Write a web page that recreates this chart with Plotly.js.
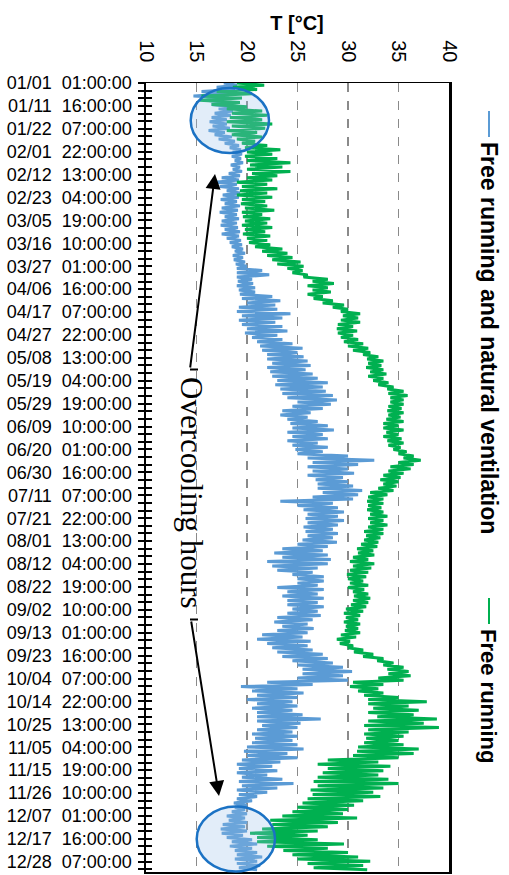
<!DOCTYPE html>
<html><head><meta charset="utf-8">
<script src="https://cdn.plot.ly/plotly-3.0.1.min.js"></script>
<style>html,body{margin:0;padding:0;background:#fff}#chart{width:509px;height:875px}</style>
</head><body><div id="chart"></div>
<script>
// ---- data (one value pair per 2-day window: low and high of the band) ----
const seriesNames = ['Free running and natural ventilation', 'Free running'];
const stepHours = 48;
const timeLabels = ['01/01  01:00:00','01/11  16:00:00','01/22  07:00:00','02/01  22:00:00','02/12  13:00:00',
  '02/23  04:00:00','03/05  19:00:00','03/16  10:00:00','03/27  01:00:00','04/06  16:00:00','04/17  07:00:00',
  '04/27  22:00:00','05/08  13:00:00','05/19  04:00:00','05/29  19:00:00','06/09  10:00:00','06/20  01:00:00',
  '06/30  16:00:00','07/11  07:00:00','07/21  22:00:00','08/01  13:00:00','08/12  04:00:00','08/22  19:00:00',
  '09/02  10:00:00','09/13  01:00:00','09/23  16:00:00','10/04  07:00:00','10/14  22:00:00','10/25  13:00:00',
  '11/05  04:00:00','11/15  19:00:00','11/26  10:00:00','12/07  01:00:00','12/17  16:00:00','12/28  07:00:00'];
const xTickVals = [10, 15, 20, 25, 30, 35, 40];

const ventLo = [
 17.7,17.0,15.5,14.7,16.0,16.5,17.2,16.8,16.5,16.3,
 16.6,16.2,16.8,17.2,17.8,18.3,18.6,18.5,18.8,18.4,
 18.6,18.2,17.5,16.8,17.3,18.0,17.6,17.4,17.8,17.5,
 17.3,17.8,17.5,17.4,17.8,17.5,18.0,18.3,18.5,18.8,
 18.6,18.7,18.9,19.0,19.0,19.0,19.1,19.0,19.2,19.3,
 19.5,20.0,19.2,19.0,19.5,19.2,19.5,20.0,19.8,20.5,
 21.0,21.3,21.5,22.0,22.0,22.5,22.0,22.3,22.5,23.0,
 22.8,23.3,23.5,24.0,25.0,24.5,23.5,23.3,24.0,24.3,
 24.5,24.0,24.5,24.0,24.5,24.8,25.0,26.0,26.5,26.0,
 26.5,26.0,26.8,27.0,27.0,27.5,26.5,23.3,25.0,25.6,
 26.0,25.8,26.0,25.6,25.8,26.0,25.5,25.0,23.5,22.7,
 23.5,22.0,22.5,23.0,24.5,25.0,25.0,23.0,24.0,23.5,
 24.0,24.0,24.5,24.0,23.0,22.7,23.5,23.0,21.5,21.0,
 22.0,22.5,23.0,23.5,24.5,25.0,25.5,25.5,25.0,22.0,
 19.4,20.5,21.0,20.0,21.0,20.5,21.0,21.0,21.0,21.5,
 21.0,20.5,20.8,20.5,20.0,19.7,20.0,19.5,19.0,19.2,
 19.0,19.5,19.2,19.5,19.0,19.2,19.0,18.7,18.8,18.5,
 18.0,18.2,17.6,17.4,17.5,18.0,18.5,18.3,18.8,19.0,
 18.8,19.0,19.2];
const ventHi = [
 19.0,18.8,18.5,18.2,18.0,18.5,18.6,18.4,18.0,18.0,
 18.3,17.8,18.5,18.8,19.2,19.4,19.5,19.4,19.6,19.3,
 19.5,19.3,19.2,19.0,19.2,19.3,19.2,19.0,19.3,19.1,
 19.0,19.2,19.0,19.1,19.3,19.2,19.4,19.5,19.6,19.8,
 19.6,19.8,20.0,21.5,22.2,20.5,20.6,20.8,20.8,22.5,
 23.3,22.8,23.0,24.3,23.5,22.8,23.5,24.0,23.0,23.5,
 24.5,25.5,25.0,25.6,26.0,26.3,25.8,26.5,27.0,28.0,
 27.5,27.8,28.5,28.9,28.3,27.5,26.3,26.0,27.0,28.0,
 28.6,27.5,28.0,27.0,28.0,27.5,30.0,32.6,31.0,30.0,
 30.6,29.5,30.0,30.5,31.4,31.0,30.5,28.5,29.0,29.6,
 29.0,29.6,29.0,28.5,29.0,28.5,28.9,28.0,27.5,28.0,
 28.3,28.0,27.0,26.5,27.6,27.6,27.0,27.6,27.0,27.6,
 27.0,27.6,27.0,27.3,26.5,26.0,26.6,26.0,25.5,26.3,
 26.0,26.5,27.5,28.0,28.5,29.5,30.4,29.5,30.0,26.5,
 25.0,25.6,25.0,24.5,25.0,24.5,25.5,27.3,25.3,25.0,
 24.5,25.0,24.5,25.0,25.6,24.0,25.0,23.3,22.5,23.0,
 22.0,23.5,24.6,23.0,22.0,21.0,20.5,20.0,19.8,20.0,
 19.8,20.0,19.8,20.0,19.6,20.5,21.0,20.5,21.0,21.5,
 21.0,21.3,21.0];
const freeLo = [
 19.0,18.6,17.0,15.5,15.3,16.5,18.0,18.5,18.3,18.0,
 18.5,18.0,18.5,19.0,19.5,19.8,20.0,19.8,20.0,20.3,
 20.0,20.5,20.0,19.0,19.5,19.3,19.0,19.5,19.4,19.8,
 19.5,19.6,19.8,19.5,19.8,19.6,20.0,20.2,20.8,21.5,
 22.0,22.5,23.0,24.0,24.5,25.6,26.5,26.0,26.5,26.0,
 26.6,27.5,28.5,29.3,29.5,29.3,29.0,28.9,29.0,29.3,
 29.6,30.0,30.5,31.5,31.9,32.0,31.8,32.2,32.0,32.5,
 33.0,33.9,34.0,34.2,34.2,34.0,33.9,34.0,33.8,33.5,
 33.5,33.8,33.5,33.9,34.0,34.5,35.0,35.5,35.0,34.2,
 34.0,33.5,33.2,33.5,33.0,32.2,32.0,31.9,32.0,31.9,
 32.2,32.0,32.2,32.0,31.6,31.8,31.6,31.3,30.9,31.0,
 30.5,30.2,30.5,30.2,29.9,30.0,30.2,30.0,30.5,30.6,
 30.5,30.3,29.8,29.6,29.8,29.6,29.8,29.7,29.3,28.9,
 29.2,30.0,30.6,31.5,32.9,33.5,33.9,34.0,33.0,30.5,
 30.2,31.0,31.6,32.0,32.0,32.5,32.0,32.9,32.0,31.6,
 32.0,31.6,31.8,31.6,31.0,30.9,30.5,28.0,27.0,28.0,
 27.5,27.0,26.6,27.0,26.3,26.5,26.0,25.5,25.0,24.5,
 23.5,22.3,22.5,21.5,20.3,21.0,21.0,22.0,23.6,24.5,
 25.0,26.0,26.6];
const freeHi = [
 21.7,21.0,20.5,19.5,19.3,20.0,21.5,22.0,21.5,22.5,
 21.8,21.0,21.5,20.8,22.0,23.3,22.5,23.0,24.3,23.5,
 24.3,23.0,22.5,22.0,23.0,22.0,22.5,21.8,22.0,22.7,
 21.5,22.3,22.0,22.5,21.8,22.3,22.0,22.3,23.5,24.0,
 24.5,25.3,25.6,25.5,26.0,28.0,28.6,28.0,28.3,27.5,
 28.5,29.6,30.0,31.2,31.0,31.2,30.5,30.9,30.5,31.0,
 31.5,32.0,32.2,33.0,33.5,33.3,33.5,33.8,33.5,34.0,
 34.5,35.5,35.9,35.5,35.5,35.3,35.5,35.2,35.5,35.0,
 35.5,35.0,35.3,35.5,35.2,35.8,36.5,37.2,36.5,36.2,
 35.5,35.2,35.0,34.8,34.5,33.9,33.5,33.5,33.3,33.5,
 33.9,33.5,33.9,33.5,33.5,33.2,33.0,32.9,32.5,32.6,
 32.0,32.6,32.3,32.0,31.8,31.5,32.0,31.6,32.0,32.2,
 32.0,31.8,31.5,31.2,31.0,31.2,31.0,31.2,30.8,30.2,
 30.5,31.5,32.5,33.5,34.5,35.5,36.0,36.2,35.5,33.5,
 33.0,33.5,35.0,37.8,36.0,37.0,36.5,38.8,37.5,39.0,
 36.0,35.5,35.0,35.5,37.0,36.5,35.0,33.0,34.2,33.5,
 33.0,34.0,35.0,33.5,32.5,33.2,31.5,30.6,30.0,29.5,
 30.9,29.0,28.0,27.0,26.0,27.0,29.6,28.0,30.0,31.0,
 32.2,31.5,31.9];

// ---- build traces: alternate low/high of each window (half a window apart) ----
function band(lo, hi) {
  const x = [], y = [];
  for (let i = 0; i < lo.length; i++) {
    x.push(lo[i]); y.push(i * stepHours);
    x.push(hi[i]); y.push(i * stepHours + stepHours / 2);
  }
  return {x, y};
}
const bv = band(ventLo, ventHi), bf = band(freeLo, freeHi);
const yMax = ventLo.length * stepHours;

const traces = [
  {type: 'scatter', mode: 'lines', name: seriesNames[0], x: bv.x, y: bv.y, yaxis: 'y',
   line: {color: '#5b9bd5', width: 3}},
  {type: 'scatter', mode: 'lines', name: seriesNames[1], x: bf.x, y: bf.y, yaxis: 'y2',
   line: {color: '#00b050', width: 3}}
];

// ---- y ticks: every 85 h, label every 255 h ----
const tickStep = 85, labelEvery = 3;
const tickVals = [], tickText = [];
for (let k = 0; k * tickStep < yMax; k++) {
  tickVals.push(k * tickStep);
  tickText.push(k % labelEvery === 0 && timeLabels[k / labelEvery] ? timeLabels[k / labelEvery].replace('  ', '\u00a0 ') : '');
}

// ---- layout helpers (pixel -> paper) ----
const M = {l: 146, r: 60, t: 83, b: 3}, W = 509, H = 875;
const pw = W - M.l - M.r, ph = H - M.t - M.b;
const PX = px => (px - M.l) / pw;
const PY = py => (H - M.b - py) / ph;

const font = 'Liberation Sans, Arial, sans-serif';
const shapes = [
  {type: 'circle', xref: 'paper', yref: 'paper', x0: PX(190.7), x1: PX(269), y0: PY(88), y1: PY(153),
   line: {color: '#1b72c4', width: 2.5}, fillcolor: 'rgba(150,190,232,0.28)', layer: 'above'},
  {type: 'circle', xref: 'paper', yref: 'paper', x0: PX(196.7), x1: PX(275), y0: PY(806.5), y1: PY(871.5),
   line: {color: '#1b72c4', width: 2.5}, fillcolor: 'rgba(150,190,232,0.28)', layer: 'above'},
  {type: 'line', xref: 'paper', yref: 'paper', x0: PX(190), x1: PX(198), y0: PY(369.5), y1: PY(369.5),
   line: {color: 'black', width: 2}},
  {type: 'line', xref: 'paper', yref: 'paper', x0: PX(190), x1: PX(198), y0: PY(619.5), y1: PY(619.5),
   line: {color: 'black', width: 2}},
  // legend keys
  {type: 'line', xref: 'paper', yref: 'paper', x0: PX(489), x1: PX(489), y0: PY(111), y1: PY(137),
   line: {color: '#5b9bd5', width: 2}},
  {type: 'line', xref: 'paper', yref: 'paper', x0: PX(489), x1: PX(489), y0: PY(598), y1: PY(624),
   line: {color: '#00b050', width: 2}}
];

const annotations = [
  {xref: 'paper', yref: 'paper', x: PX(192), y: PY(493), text: 'Overcooling hours', textangle: 90,
   showarrow: false, xanchor: 'center', yanchor: 'middle',
   font: {family: 'Liberation Serif, Times New Roman, serif', size: 31, color: 'black'}},
  {xref: 'paper', yref: 'paper', x: PX(215), y: PY(174), text: '', showarrow: true,
   ax: 190 - 215, ay: 369 - 174, arrowhead: 2, arrowsize: 1.5, arrowwidth: 2, arrowcolor: 'black', standoff: 0},
  {xref: 'paper', yref: 'paper', x: PX(219), y: PY(796), text: '', showarrow: true,
   ax: 191 - 219, ay: 620 - 796, arrowhead: 2, arrowsize: 1.5, arrowwidth: 2, arrowcolor: 'black', standoff: 0},
  {xref: 'paper', yref: 'paper', x: PX(489), y: PY(140), text: '<b>' + seriesNames[0] + '</b>', textangle: 90,
   showarrow: false, xanchor: 'center', yanchor: 'top', font: {family: font, size: 23, color: 'black'}},
  {xref: 'paper', yref: 'paper', x: PX(489), y: PY(627), text: '<b>' + seriesNames[1] + '</b>', textangle: 90,
   showarrow: false, xanchor: 'center', yanchor: 'top', font: {family: font, size: 22, color: 'black'}}
];

const layout = {
  width: W, height: H, margin: M, paper_bgcolor: 'white', plot_bgcolor: 'white', showlegend: false,
  font: {family: font, color: 'black'},
  title: {text: '<b>T [°C]</b>', font: {family: font, size: 20, color: 'black'},
          x: 297 / W, xanchor: 'center', xref: 'container', y: 1 - 23 / H, yref: 'container', yanchor: 'middle'},
  xaxis: {side: 'top', range: [10, 40], tickmode: 'array', tickvals: xTickVals, tickangle: 90,
          tickfont: {family: font, size: 20, color: 'black'}, ticks: '', ticklabelstandoff: 12,
          showgrid: true, gridcolor: '#8a8a8a', griddash: 'dash', gridwidth: 1.5,
          showline: true, linecolor: 'black', linewidth: 1.5, mirror: true, zeroline: false},
  yaxis: {range: [yMax, 0], tickmode: 'array', tickvals: tickVals, ticktext: tickText,
          ticks: 'outside', ticklen: 6, tickwidth: 2, tickcolor: 'black',
          tickfont: {family: font, size: 18, color: 'black'}, ticklabelstandoff: 2,
          showline: true, linecolor: 'black', linewidth: 2.5, mirror: true, showgrid: false, zeroline: false},
  yaxis2: {overlaying: 'y', anchor: 'x', side: 'left', range: [yMax, 0], tickmode: 'array', tickvals: tickVals,
           ticks: 'inside', ticklen: 6, tickwidth: 2, tickcolor: 'black', showticklabels: false,
           showline: false, showgrid: false, zeroline: false},
  shapes: shapes,
  annotations: annotations
};

Plotly.newPlot('chart', traces, layout, {staticPlot: true});
</script></body></html>
